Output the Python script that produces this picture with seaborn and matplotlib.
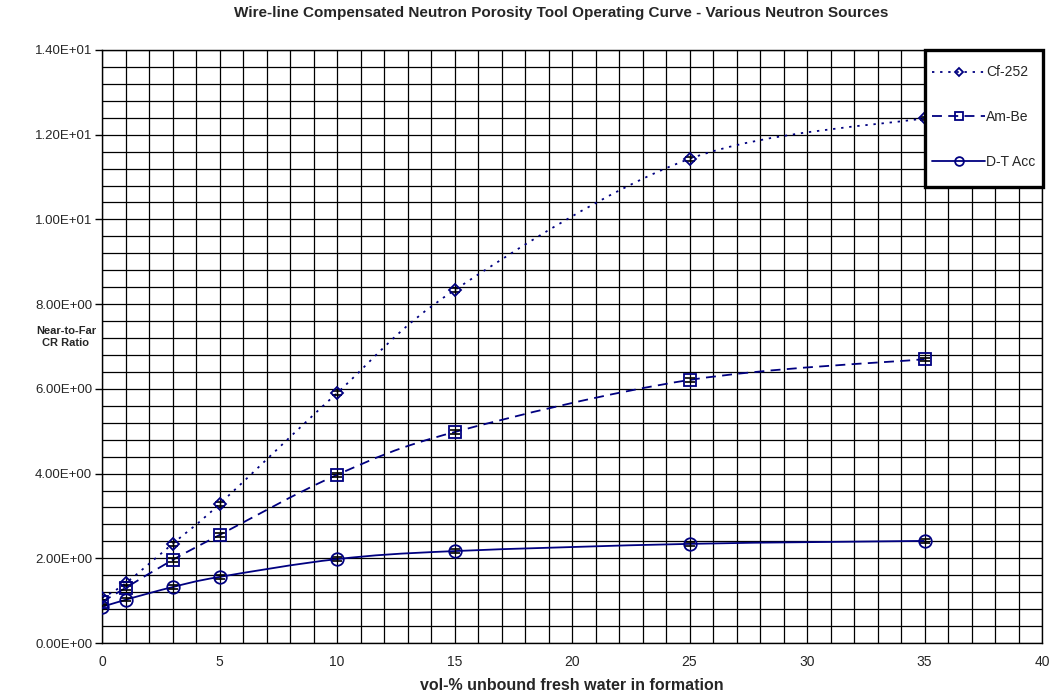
import numpy as np
import matplotlib
matplotlib.use("Agg")
import matplotlib.pyplot as plt
from matplotlib.path import Path
from matplotlib.patches import PathPatch, Rectangle
from matplotlib.lines import Line2D
from matplotlib.ticker import MultipleLocator, FuncFormatter
import seaborn as sns

# Water content (vol-%) at which each source was modelled
water_pct = [0, 1, 3, 5, 10, 15, 25, 35]

# Near-to-far count-rate ratio per neutron source
cf252 = [1.06, 1.41, 2.34, 3.28, 5.90, 8.33, 11.43, 12.39]
ambe = [0.97, 1.30, 1.96, 2.55, 3.97, 4.98, 6.21, 6.70]
dt_acc = [0.85, 1.02, 1.32, 1.56, 1.98, 2.17, 2.34, 2.41]

# Statistical uncertainty on each ratio
ratio_err = 0.04

series_names = ["Cf-252", "Am-Be", "D-T Acc"]

sns.set_style("white")
plt.rcParams["font.family"] = ["Liberation Sans", "DejaVu Sans"]

NAVY = "#000080"
W, H = 1051, 696

fig = plt.figure(figsize=(W / 100, H / 100), dpi=100)
ax = fig.add_axes([102 / W, 1 - 643 / H, 940 / W, 593 / H])


def smooth_path(xs, ys):
    """Catmull-Rom style Bezier path through the points (spreadsheet smoothing)."""
    pts = np.column_stack([xs, ys]).astype(float)
    n = len(pts)
    verts = [pts[0]]
    codes = [Path.MOVETO]
    for i in range(n - 1):
        p0 = pts[i - 1] if i > 0 else pts[i]
        p1 = pts[i]
        p2 = pts[i + 1]
        p3 = pts[i + 2] if i + 2 < n else pts[i + 1]
        c1 = p1 + (p2 - p0) / 6.0
        c2 = p2 - (p3 - p1) / 6.0
        verts += [c1, c2, p2]
        codes += [Path.CURVE4] * 3
    return Path(verts, codes)


styles = {
    "Cf-252": dict(ls=(0, (1.3, 3.2)), marker="D", ms=6.3),
    "Am-Be": dict(ls=(0, (5.5, 3.5)), marker="s", ms=9.0),
    "D-T Acc": dict(ls="-", marker="o", ms=9.0),
}
values = {"Cf-252": cf252, "Am-Be": ambe, "D-T Acc": dt_acc}

for name in series_names:
    st = styles[name]
    yv = values[name]
    ax.add_patch(PathPatch(smooth_path(water_pct, yv), fill=False,
                           edgecolor=NAVY, lw=1.3, linestyle=st["ls"], zorder=3))
    ax.errorbar(water_pct, yv, yerr=ratio_err, fmt="none", ecolor="black",
                elinewidth=1.0, capsize=3.5, capthick=1.2, zorder=4)
    sns.lineplot(x=water_pct, y=yv, ax=ax, linestyle="", marker=st["marker"],
                 markersize=st["ms"], markerfacecolor="none",
                 markeredgecolor=NAVY, markeredgewidth=1.3, zorder=5)

ax.set_xlim(0, 40)
ax.set_ylim(0, 14)
ax.xaxis.set_major_locator(MultipleLocator(5))
ax.xaxis.set_minor_locator(MultipleLocator(1))
ax.yaxis.set_major_locator(MultipleLocator(2))
ax.yaxis.set_minor_locator(MultipleLocator(0.4))
ax.yaxis.set_major_formatter(FuncFormatter(lambda v, p: f"{v:.2E}"))

ax.grid(which="both", color="black", lw=0.9)
ax.set_axisbelow(True)
for sp in ax.spines.values():
    sp.set_color("black")
    sp.set_linewidth(1.0)

ax.tick_params(axis="x", which="both", length=0, pad=9, labelsize=10)
ax.tick_params(axis="y", which="major", length=5, width=1, pad=2,
               labelsize=9.5, left=True, direction="out", color="black")
ax.tick_params(axis="y", which="minor", length=0)

ax.set_xlabel("vol-% unbound fresh water in formation", fontsize=11.5,
              fontweight="bold", labelpad=6)
ax.set_ylabel("")
fig.text(66 / W, 1 - 337 / H, "Near-to-Far\nCR Ratio", ha="center",
         va="center", fontsize=8, fontweight="bold", linespacing=1.3)
fig.text(0.534, 1 - 13 / H,
         "Wire-line Compensated Neutron Porosity Tool Operating Curve - Various Neutron Sources",
         ha="center", va="center", fontsize=11, fontweight="bold")

# Legend box: white panel with heavy black border in the upper right corner
box = Rectangle((925 / W, 1 - 187 / H), 118 / W, 137 / H,
                transform=fig.transFigure, facecolor="white",
                edgecolor="black", lw=2.4, zorder=9, clip_on=False)
ax.add_patch(box)

handles = [
    Line2D([], [], color=NAVY, lw=1.3, linestyle=styles[n]["ls"],
           marker=styles[n]["marker"], markersize=styles[n]["ms"] * 0.7,
           markerfacecolor="none", markeredgecolor=NAVY, markeredgewidth=1.3)
    for n in series_names
]
leg = ax.legend(handles, series_names, loc="center",
                bbox_to_anchor=(984 / W, 1 - 117 / H),
                bbox_transform=fig.transFigure, borderaxespad=0,
                fontsize=10, frameon=False, labelspacing=2.2,
                handlelength=3.8, handletextpad=0.08, borderpad=0.2)
leg.set_zorder(10)

fig.savefig("out.png", dpi=100)
